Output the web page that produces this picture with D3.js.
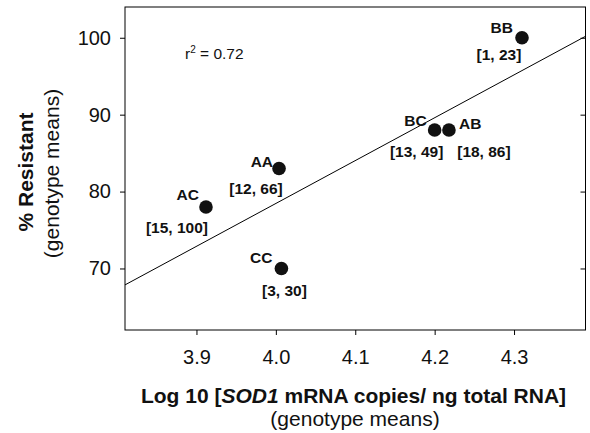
<!DOCTYPE html>
<html>
<head>
<meta charset="utf-8">
<script src="https://cdn.jsdelivr.net/npm/d3@7"></script>
<style>
  body { margin: 0; background: #fff; }
  svg { display: block; font-family: "Liberation Sans", Arial, sans-serif; }
  .frame { fill: none; stroke: #000; stroke-width: 1; }
  .axis path { display: none; }
  .axis line { stroke: #000; }
  .axis text { font-size: 20px; fill: #111; }
  .ptlabel { font-size: 15.5px; font-weight: bold; fill: #111; }
</style>
</head>
<body>
<svg id="chart" width="590" height="433"></svg>
<script>
// genotype means
var genotypes = ["BB", "BC", "AB", "AA", "AC", "CC"];
var logCopies = [4.31, 4.20, 4.218, 4.004, 3.912, 4.007];
var pctResistant = [100, 88, 88, 83, 78, 70];
var countLabels = ["[1, 23]", "[13, 49]", "[18, 86]", "[12, 66]", "[15, 100]", "[3, 30]"];
var xTicks = [3.9, 4.0, 4.1, 4.2, 4.3];
var yTicks = [70, 80, 90, 100];

// where each label sits around its dot (px)
var nameOffsets = [
  {dx: -9, dy: -5, anchor: "end"},
  {dx: -8, dy: -4, anchor: "end"},
  {dx: 10, dy: -1.5, anchor: "start"},
  {dx: -6, dy: -1.6, anchor: "end"},
  {dx: -7, dy: -6.7, anchor: "end"},
  {dx: -9, dy: -5, anchor: "end"}
];
var countOffsets = [
  {dx: -23, dy: 22},
  {dx: -18, dy: 27},
  {dx: 35, dy: 27},
  {dx: -23, dy: 25},
  {dx: -29, dy: 26},
  {dx: 3, dy: 28}
];

var margin = {top: 7, right: 4.5, bottom: 103, left: 125};
var totalWidth = 590, totalHeight = 433;
var width = totalWidth - margin.left - margin.right;
var height = totalHeight - margin.top - margin.bottom;

var x = d3.scaleLinear().domain([3.81, 4.39]).range([0, width]);
var y = d3.scaleLinear().domain([62, 104]).range([height, 0]);

var svg = d3.select("#chart");
var g = svg.append("g").attr("transform", "translate(" + margin.left + "," + margin.top + ")");

// axes
g.append("g")
  .attr("class", "axis")
  .attr("transform", "translate(0," + height + ")")
  .call(d3.axisBottom(x).tickValues(xTicks).tickFormat(d3.format(".1f")).tickSize(5).tickPadding(15));
g.append("g")
  .attr("class", "axis")
  .call(d3.axisLeft(y).tickValues(yTicks).tickSize(5).tickPadding(9));
g.append("g")
  .attr("class", "axis")
  .attr("transform", "translate(" + width + ",0)")
  .call(d3.axisLeft(y).tickValues(yTicks).tickSize(5).tickFormat(""));

// least squares fit line
var pts = genotypes.map(function (d, i) { return {x: logCopies[i], y: pctResistant[i]}; });
var mx = d3.mean(pts, function (d) { return d.x; });
var my = d3.mean(pts, function (d) { return d.y; });
var sxy = d3.sum(pts, function (d) { return (d.x - mx) * (d.y - my); });
var sxx = d3.sum(pts, function (d) { return (d.x - mx) * (d.x - mx); });
var slope = sxy / sxx;
var intercept = my - slope * mx;
var xd = x.domain();
g.append("line")
  .attr("x1", x(xd[0])).attr("y1", y(intercept + slope * xd[0]))
  .attr("x2", x(xd[1])).attr("y2", y(intercept + slope * xd[1]))
  .attr("stroke", "#000").attr("stroke-width", 1);

// frame
g.append("rect").attr("class", "frame").attr("width", width).attr("height", height);

// dots
g.selectAll("circle.dot")
  .data(pts)
  .enter().append("circle")
  .attr("class", "dot")
  .attr("cx", function (d) { return x(d.x); })
  .attr("cy", function (d) { return y(d.y); })
  .attr("r", 6.8)
  .attr("fill", "#111");

// labels
g.selectAll("text.name")
  .data(pts)
  .enter().append("text")
  .attr("class", "ptlabel name")
  .attr("x", function (d, i) { return x(d.x) + nameOffsets[i].dx; })
  .attr("y", function (d, i) { return y(d.y) + nameOffsets[i].dy; })
  .attr("text-anchor", function (d, i) { return nameOffsets[i].anchor; })
  .text(function (d, i) { return genotypes[i]; });
g.selectAll("text.count")
  .data(pts)
  .enter().append("text")
  .attr("class", "ptlabel count")
  .attr("x", function (d, i) { return x(d.x) + countOffsets[i].dx; })
  .attr("y", function (d, i) { return y(d.y) + countOffsets[i].dy; })
  .attr("text-anchor", "middle")
  .text(function (d, i) { return countLabels[i]; });

// r squared
var r2 = g.append("text").attr("x", 60).attr("y", 52).attr("font-size", 15.5).attr("fill", "#111");
r2.append("tspan").text("r");
r2.append("tspan").attr("font-size", 10).attr("dy", -6).text("2");
r2.append("tspan").attr("dy", 6).text(" = 0.72");

// axis titles
var xt = svg.append("text")
  .attr("x", 353.5).attr("y", 403)
  .attr("text-anchor", "middle").attr("font-size", 21).attr("font-weight", "bold").attr("fill", "#111");
xt.append("tspan").text("Log 10 [");
xt.append("tspan").attr("font-style", "italic").text("SOD1");
xt.append("tspan").text(" mRNA copies/ ng total RNA]");
svg.append("text")
  .attr("x", 355).attr("y", 426)
  .attr("text-anchor", "middle").attr("font-size", 21).attr("fill", "#111")
  .text("(genotype means)");

svg.append("text")
  .attr("transform", "translate(33,172)rotate(-90)")
  .attr("text-anchor", "middle").attr("font-size", 21).attr("font-weight", "bold").attr("fill", "#111")
  .text("% Resistant");
svg.append("text")
  .attr("transform", "translate(58.5,173.5)rotate(-90)")
  .attr("text-anchor", "middle").attr("font-size", 21).attr("fill", "#111")
  .text("(genotype means)");
</script>
</body>
</html>
